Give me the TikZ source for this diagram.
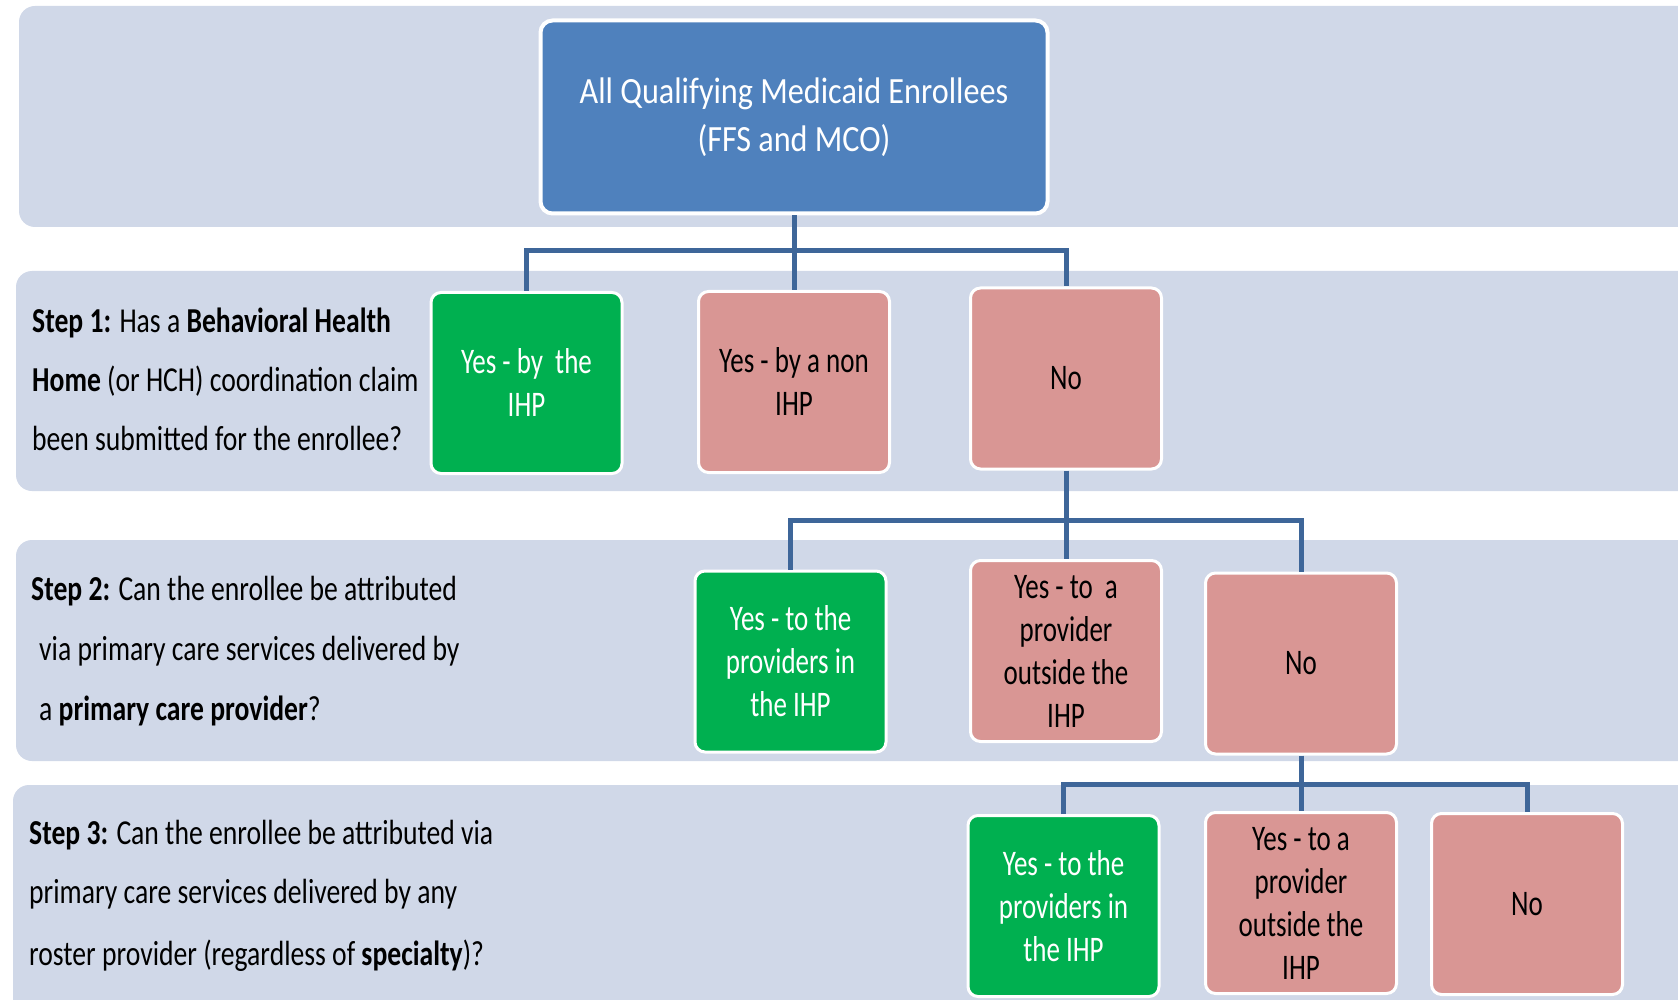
\documentclass[tikz,border=0pt]{standalone}
\usepackage{fontspec}
\setmainfont{Carlito}[FakeStretch=0.79]
\newfontfamily\boxfont{Carlito}[FakeStretch=0.75]
\newfontfamily\topfont{Carlito}[FakeStretch=0.87]
\definecolor{bandc}{HTML}{D0D8E8}
\definecolor{topc}{HTML}{4F81BD}
\definecolor{greenc}{HTML}{00B050}
\definecolor{pinkc}{HTML}{D99694}
\definecolor{connc}{HTML}{3E6699}
\begin{document}
\begin{tikzpicture}[x=1pt,y=-1pt,
  band/.style={fill=bandc, draw=none, rounded corners=16pt},
  topbox/.style={rectangle, rounded corners=12pt, draw=white, line width=4pt, fill=topc, text=white,
    minimum width=507pt, minimum height=193pt, inner sep=0pt, align=center,
    font=\topfont\fontsize{37}{48}\selectfont},
  choice/.style={rectangle, rounded corners=10pt, draw=white, line width=3pt,
    minimum width=191pt, minimum height=181pt, inner sep=0pt, align=center,
    font=\boxfont\fontsize{36}{43}\selectfont},
  ybox/.style={choice, fill=greenc, text=white},
  nbox/.style={choice, fill=pinkc, text=black},
  conn/.style={draw=connc, line width=5pt},
  steptxt/.style={anchor=base west, inner sep=0pt, font=\fontsize{35}{40}\selectfont}
]
\useasboundingbox (0,0) rectangle (1678,1000);
\clip (0,0) rectangle (1678,1000);
\fill[white] (0,0) rectangle (1678,1000);
% bands
\fill[band] (19,6) rectangle (1720,227);
\fill[band] (16,271) rectangle (1720,491);
\fill[band] (16,540) rectangle (1720,761);
\fill[band] (13,785) rectangle (1720,1030);

% top
\node[topbox] (top) at (794,117) {All Qualifying Medicaid Enrollees\\(FFS and MCO)};

% step 1
\node[ybox] (c1) at (526.5,383) {Yes - by\ \ the\\IHP};
\node[nbox] (c2) at (794,382) {Yes - by a non\\IHP};
\node[nbox] (c3) at (1066,378.5) {No};

% step 2
\node[ybox] (d1) at (790.5,661.5) {Yes - to the\\providers in\\the IHP};
\node[nbox] (d2) at (1066,651) {Yes - to\ \ a\\provider\\outside the\\IHP};
\node[nbox] (d3) at (1301,663.5) {No};

% step 3
\node[ybox] (e1) at (1063.5,906) {Yes - to the\\providers in\\the IHP};
\node[nbox] (e2) at (1301,903) {Yes - to a\\provider\\outside the\\IHP};
\node[nbox] (e3) at (1527,904) {No};

% junctions
\coordinate (j1) at (794,251);
\coordinate (j2) at (1066,520);
\coordinate (j3) at (1301,784);

% connectors
\draw[conn] (top.south) -- (j1);
\draw[conn] (c1.north) |- (j1) -| (c3.north);
\draw[conn] (j1) -- (c2.north);
\draw[conn] (c3.south) -- (j2);
\draw[conn] (d1.north) |- (j2) -| (d3.north);
\draw[conn] (j2) -- (d2.north);
\draw[conn] (d3.south) -- (j3);
\draw[conn] (e1.north) |- (j3) -| (e3.north);
\draw[conn] (j3) -- (e2.north);

% step texts
\node[steptxt] (s1a) at (32,332) {\textbf{Step 1:} Has a \textbf{Behavioral Health}};
\node[steptxt] (s1b) at (32,391) {\textbf{Home} (or HCH) coordination claim};
\node[steptxt] (s1c) at (32,450) {been submitted for the enrollee?};
\node[steptxt] (s2a) at (31,600) {\textbf{Step 2:} Can the enrollee be attributed};
\node[steptxt] (s2b) at (39,660) {via primary care services delivered by};
\node[steptxt] (s2c) at (39,720) {a \textbf{primary care provider}?};
\node[steptxt] (s3a) at (29,844) {\textbf{Step 3:} Can the enrollee be attributed via};
\node[steptxt] (s3b) at (29,903) {primary care services delivered by any};
\node[steptxt] (s3c) at (29,965) {roster provider (regardless of \textbf{specialty})?};
\end{tikzpicture}
\end{document}
